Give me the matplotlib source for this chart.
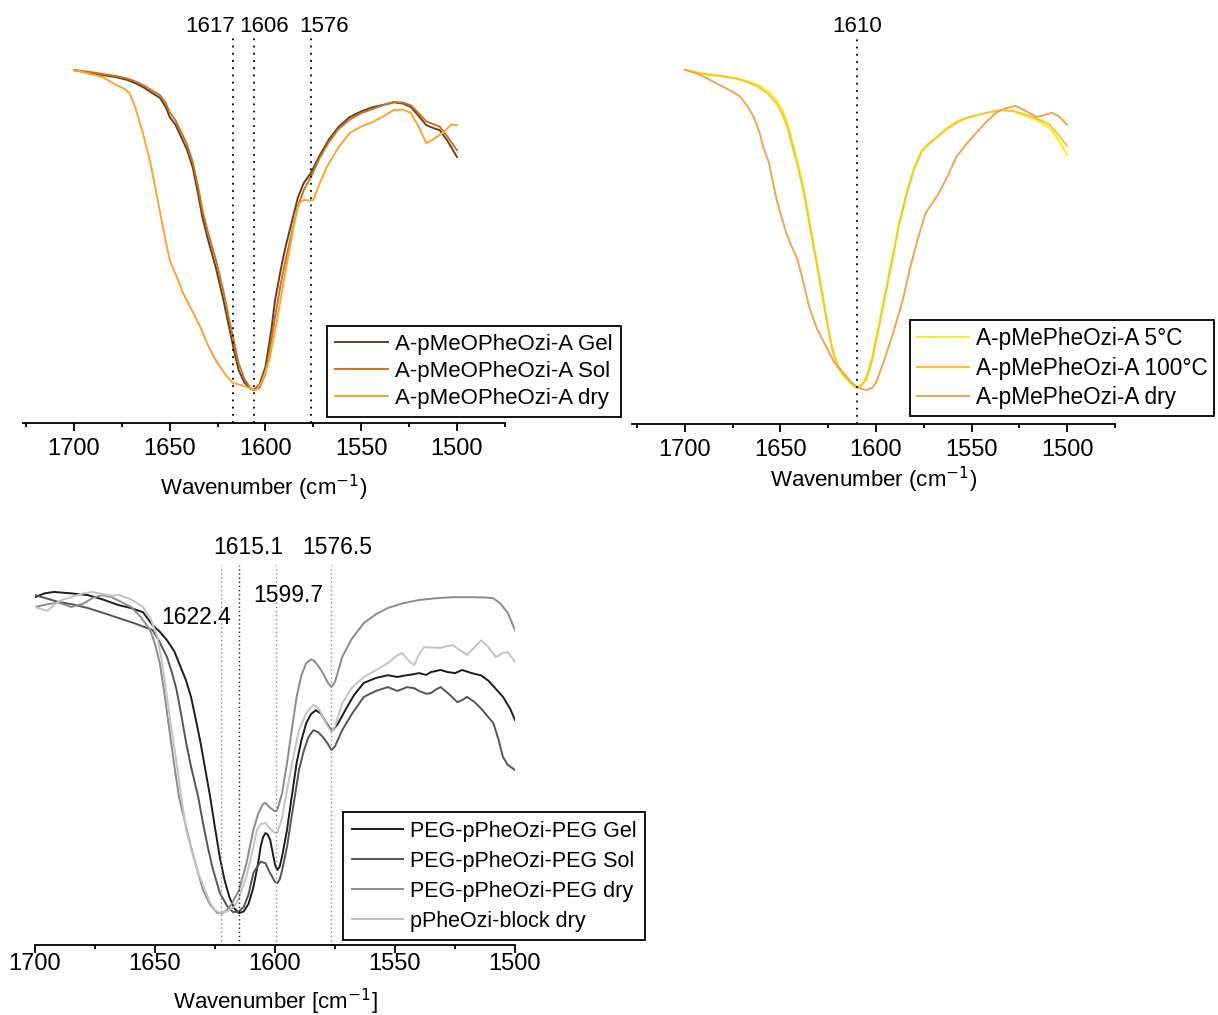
import matplotlib
matplotlib.use("Agg")
import matplotlib.pyplot as plt
import matplotlib.transforms as mtransforms
from matplotlib.ticker import MultipleLocator

plt.rcParams['font.family'] = ['Liberation Sans', 'DejaVu Sans']

# ---------------- Panel A: A-pMeOPheOzi-A ----------------
wn_meo = [1700, 1692, 1685, 1678, 1672, 1668, 1664, 1660, 1655, 1652, 1650, 1647, 1645, 1641,
          1638, 1635, 1633, 1630, 1626, 1622, 1619, 1616, 1614, 1611, 1608, 1606, 1603, 1600,
          1597, 1595, 1592, 1589.5, 1586, 1583, 1580, 1576, 1572, 1567, 1562, 1556, 1550,
          1544, 1538, 1533, 1528, 1524, 1520, 1516, 1512, 1509, 1505, 1500]
t_meo_gel = [100, 99.3, 98.6, 98.0, 97.2, 96.3, 95.2, 93.8, 92.1, 89.5, 86.7, 84.5, 82.2, 77.5,
             72.5, 64.5, 58.4, 52.0, 44.2, 35.0, 27.2, 19.5, 15.0, 11.5, 9.8, 9.3, 11.0, 15.9,
             26.0, 34.8, 43.5, 49.9, 57.5, 64.0, 68.0, 71.1, 75.5, 80.2, 83.8, 86.7, 88.3,
             89.5, 90.2, 90.9, 90.5, 89.5, 87.0, 84.4, 83.5, 83.0, 80.0, 75.4]
t_meo_sol = [100, 99.5, 98.9, 98.3, 97.6, 96.8, 95.8, 94.5, 92.9, 90.6, 88.0, 85.8, 83.5, 79.0,
             74.0, 66.5, 60.5, 54.0, 46.5, 37.5, 29.5, 22.0, 17.0, 12.5, 10.0, 9.3, 10.0, 14.0,
             23.0, 30.0, 39.5, 46.0, 54.5, 61.5, 66.0, 70.0, 74.8, 79.5, 83.2, 86.0, 87.8,
             89.0, 90.2, 90.9, 90.8, 90.0, 87.8, 85.5, 84.6, 84.0, 81.2, 77.3]
wn_meo_dry = [1700, 1692, 1685, 1678, 1674, 1671, 1668, 1664, 1660, 1657, 1653, 1650, 1646,
              1643, 1638, 1634, 1630, 1626, 1621, 1617, 1613, 1610, 1607, 1605, 1602, 1598,
              1594, 1591, 1587, 1584, 1582, 1580, 1577, 1575, 1572, 1568, 1562, 1556, 1550,
              1544, 1538, 1533, 1528, 1524, 1520, 1516, 1512, 1507, 1503, 1500]
t_meo_dry = [100, 99.0, 98.0, 95.8, 94.8, 93.5, 89.5, 82.2, 73.5, 65.2, 54.0, 46.2, 41.0,
             36.8, 31.5, 27.2, 22.0, 17.8, 13.8, 11.3, 10.8, 10.2, 9.6, 9.3, 11.5, 17.8,
             29.0, 38.5, 50.5, 59.5, 62.5, 63.2, 63.0, 63.2, 67.5, 72.5, 78.0, 82.2, 84.0,
             85.3, 87.0, 88.7, 88.8, 87.8, 84.0, 79.3, 80.5, 82.4, 84.6, 84.4]
labels_meo = ["A-pMeOPheOzi-A Gel", "A-pMeOPheOzi-A Sol", "A-pMeOPheOzi-A dry"]
colors_meo = ["#5e4321", "#d0701f", "#f9a532"]
peaks_meo = [1617, 1606, 1576]
peak_text_x_meo = [1629, 1600.5, 1569.4]

# ---------------- Panel B: A-pMePheOzi-A ----------------
wn_me = [1700, 1690, 1680, 1673, 1667, 1662, 1659, 1656, 1652, 1649, 1646, 1644, 1641, 1638,
         1636, 1633, 1631, 1628, 1626, 1623, 1620, 1617, 1615, 1612, 1610, 1608, 1605, 1602,
         1598, 1595, 1591, 1588, 1584, 1580, 1576, 1572, 1568, 1563, 1558, 1553, 1547, 1541,
         1534, 1528, 1523, 1516, 1509, 1505, 1500]
t_me_5 = [100, 99.0, 98.3, 97.7, 96.8, 95.8, 94.8, 93.8, 91.5, 88.7, 84.5, 80.2, 74.0, 66.9,
          61.0, 52.0, 46.0, 37.0, 30.5, 20.9, 16.0, 13.5, 12.4, 10.8, 10.2, 11.0, 13.3, 19.0,
          29.4, 37.5, 48.3, 56.5, 65.3, 72.5, 77.4, 79.5, 81.1, 83.5, 85.3, 86.5, 87.3, 88.0,
          88.7, 88.3, 87.3, 85.8, 83.6, 80.5, 76.0]
t_me_100 = [100, 98.8, 98.1, 97.5, 96.5, 95.3, 94.2, 93.0, 90.5, 87.5, 83.2, 79.0, 72.8, 66.0,
            60.0, 51.0, 45.0, 36.0, 29.8, 21.5, 16.5, 14.0, 13.0, 11.0, 10.2, 10.6, 12.5, 18.0,
            28.5, 36.8, 47.5, 56.0, 64.8, 72.0, 77.0, 79.2, 81.0, 83.2, 85.0, 86.3, 87.2, 88.0,
            88.7, 88.4, 87.6, 86.3, 84.5, 82.0, 78.5]
wn_me_dry = [1700, 1693, 1687, 1680, 1675, 1671, 1667, 1664, 1661, 1659, 1656, 1654, 1652,
             1650, 1647, 1644, 1641, 1638, 1635, 1631, 1626, 1622, 1617, 1613, 1610, 1607,
             1605, 1602, 1600, 1596, 1591, 1586, 1582, 1578, 1574, 1570, 1567, 1562, 1558,
             1552, 1547, 1542, 1537, 1532, 1527, 1522, 1516, 1512, 1508, 1504, 1500]
t_me_dry = [100, 98.8, 97.2, 95.2, 93.8, 92.4, 89.5, 86.7, 82.5, 78.2, 73.7, 68.5, 63.3,
            59.5, 54.0, 50.0, 46.3, 40.0, 33.1, 27.0, 21.8, 17.5, 14.4, 11.8, 10.5, 9.8,
            9.6, 10.2, 11.6, 17.5, 25.7, 35.0, 44.4, 52.5, 59.6, 62.8, 65.3, 70.5, 75.4,
            79.5, 82.5, 85.5, 87.9, 89.2, 89.8, 88.5, 86.7, 87.2, 87.9, 86.8, 84.5]
labels_me = ["A-pMePheOzi-A 5°C", "A-pMePheOzi-A 100°C", "A-pMePheOzi-A dry"]
colors_me = ["#f2ee22", "#f7c72c", "#f2a452"]
peaks_me = [1610]

# ---------------- Panel C: PEG-pPheOzi-PEG ----------------
wn_peg_gel = [1700, 1696, 1692, 1685, 1678, 1672, 1665, 1660, 1655, 1651, 1648, 1645, 1642,
              1640, 1637, 1635, 1633, 1631, 1629, 1627, 1625, 1623, 1621, 1619, 1617, 1615,
              1613, 1611, 1609, 1607, 1606, 1605, 1604, 1603, 1602, 1601, 1600, 1599, 1598,
              1597, 1595, 1593, 1591, 1589, 1587, 1585, 1583, 1581, 1579, 1577, 1576, 1574,
              1572, 1570, 1567, 1563, 1558, 1553, 1549, 1546, 1543, 1540, 1537, 1535, 1531,
              1528, 1525, 1522, 1518, 1514, 1511, 1508, 1505, 1502, 1500]
t_peg_gel = [99.4, 100.5, 100.9, 100.5, 100, 98.8, 97.1, 96.3, 95.1, 91.4, 89.5, 87.1, 84.0,
             80.6, 75.5, 70.9, 64.5, 57.7, 50.0, 42.3, 33.5, 25.1, 18.5, 13.7, 10.5, 9.1,
             9.6, 11.8, 16.5, 23.5, 28.0, 30.8, 32.0, 31.5, 30.0, 26.5, 23.0, 21.4, 22.5,
             25.5, 32.9, 42.5, 52.0, 58.5, 63.4, 66.0, 67.1, 66.2, 64.0, 61.7, 61.4, 63.0,
             65.5, 68.0, 71.5, 74.9, 76.3, 77.1, 76.6, 77.0, 77.3, 77.7, 77.2, 78.0, 78.6,
             78.0, 77.7, 78.6, 77.7, 77.0, 75.5, 73.2, 70.9, 67.5, 64.3]
wn_peg_sol = [1700, 1695, 1690, 1684, 1678, 1672, 1665, 1658, 1651, 1648, 1645, 1643, 1641,
              1639, 1637, 1635, 1632, 1630, 1628, 1626, 1623, 1620, 1617.5, 1615, 1613, 1611,
              1609, 1607, 1606, 1604, 1602, 1600, 1599, 1598, 1597, 1595, 1593, 1590, 1588,
              1586, 1584, 1582, 1580, 1578, 1576.5, 1575, 1572, 1568, 1563, 1558, 1553, 1549,
              1545, 1542, 1540, 1537, 1535, 1533, 1531, 1528, 1524, 1522, 1520, 1517, 1514,
              1511, 1509, 1507, 1505, 1503, 1500]
t_peg_sol = [100, 99.0, 98.0, 97.3, 96.3, 95.0, 93.4, 91.8, 90.0, 86.5, 82.3, 78.0, 72.9,
             65.5, 57.7, 51.0, 42.3, 34.8, 28.0, 22.0, 14.9, 11.2, 9.4, 9.6, 10.9, 14.5,
             20.6, 22.8, 23.8, 23.4, 20.5, 18.0, 17.7, 18.8, 21.5, 28.0, 37.0, 50.0, 55.5,
             59.5, 61.4, 60.8, 59.4, 57.5, 55.7, 56.8, 61.4, 66.0, 70.9, 72.6, 73.7, 72.6,
             73.7, 73.4, 72.6, 71.8, 72.0, 73.0, 73.7, 72.0, 69.4, 70.0, 70.9, 69.5, 67.5,
             65.0, 63.4, 59.0, 53.7, 51.5, 50.0]
wn_peg_dry = [1700, 1694, 1690, 1685, 1680, 1676, 1672, 1668, 1664, 1660, 1656, 1652, 1650,
              1648, 1646, 1644, 1642, 1640, 1638, 1635, 1632, 1630, 1627, 1624, 1622, 1620,
              1618, 1615, 1612, 1609, 1607, 1605, 1604, 1602, 1600, 1599, 1597, 1595, 1593,
              1591, 1589, 1587, 1585, 1584, 1582, 1580, 1578, 1576.5, 1575, 1572, 1568, 1563,
              1558, 1553, 1547, 1540, 1533, 1526, 1518, 1512, 1509, 1506, 1503, 1500]
t_peg_dry = [96.6, 97.5, 97.8, 96.6, 97.5, 99.2, 100, 99.4, 98.0, 96.6, 93.8, 90.0, 86.0,
             80.6, 71.5, 61.4, 51.5, 42.3, 36.5, 28.0, 20.5, 15.7, 11.5, 9.1, 9.0, 10.0,
             11.8, 15.7, 23.0, 32.9, 37.5, 40.3, 40.6, 39.2, 38.2, 38.6, 43.5, 52.0, 61.5,
             70.9, 77.0, 80.6, 81.6, 81.4, 79.8, 77.7, 75.0, 73.7, 75.2, 82.3, 87.5, 92.0,
             94.5, 96.3, 97.6, 98.6, 99.1, 99.4, 99.4, 99.3, 99.1, 97.5, 94.9, 90.0]
wn_block = [1700, 1695, 1690, 1685, 1680, 1676, 1672, 1668, 1665, 1660, 1655, 1652, 1649,
            1647, 1645, 1643, 1641, 1639, 1637, 1634, 1632, 1629, 1627, 1625, 1623, 1620,
            1617, 1615, 1612, 1610, 1607.5, 1606, 1604, 1602, 1600, 1599, 1597, 1595, 1592,
            1590, 1587, 1584, 1582, 1580, 1578, 1576.5, 1575, 1572, 1568, 1563, 1558, 1553,
            1549, 1547, 1544, 1542, 1540, 1538, 1534, 1531, 1528, 1526, 1523, 1520, 1517,
            1514, 1511, 1508, 1505, 1503, 1500]
t_block = [96.6, 95.5, 98.3, 99.4, 100.5, 100.9, 100.3, 99.8, 100, 98.8, 96.6, 93.5, 88.0,
           80.5, 70.9, 61.0, 52.0, 42.0, 32.9, 25.0, 20.6, 15.5, 12.0, 10.0, 9.1, 9.6,
           10.9, 13.5, 19.4, 25.0, 32.9, 34.5, 34.9, 33.2, 32.0, 32.0, 36.5, 44.3, 55.0,
           61.4, 66.3, 68.6, 67.8, 65.1, 62.5, 60.9, 62.5, 69.1, 73.5, 76.6, 78.5, 80.6,
           82.8, 83.4, 81.0, 80.0, 83.0, 85.1, 85.0, 84.9, 85.5, 85.7, 84.3, 82.9, 85.0,
           87.1, 85.0, 82.3, 83.5, 83.7, 80.9]
labels_peg = ["PEG-pPheOzi-PEG Gel", "PEG-pPheOzi-PEG Sol", "PEG-pPheOzi-PEG dry",
              "pPheOzi-block dry"]
colors_peg = ["#1c1c1c", "#555555", "#8c8c8c", "#c4c4c4"]
peaks_peg = [1622.4, 1615.1, 1599.7, 1576.5]
peak_colors_peg = ["#8a8a8a", "#222222", "#8a8a8a", "#8a8a8a"]
peak_text_x_peg = [1632.9, 1611.25, 1594.6, 1574.2]
peak_text_y_peg = [0.863, 1.045, 0.921, 1.045]

TICK_FS = 17
ANN_FS = 16
ANN_FS_C = 16.5
LAB_FS = 16
LW = 1.4

fig = plt.figure(figsize=(12.18, 10.15), dpi=100)


def style_axis(ax, xlim, ylim, pad):
    ax.set_xlim(*xlim)
    ax.set_ylim(*ylim)
    for s in ["left", "right", "top"]:
        ax.spines[s].set_visible(False)
    ax.spines["bottom"].set_linewidth(1.3)
    ax.set_yticks([])
    ax.xaxis.set_major_locator(MultipleLocator(50))
    ax.xaxis.set_minor_locator(MultipleLocator(25))
    ax.tick_params(axis="x", which="major", direction="out", length=5.5, width=1.3,
                   labelsize=TICK_FS, pad=pad)
    ax.tick_params(axis="x", which="minor", direction="out", length=3, width=1.3)
    ax.patch.set_alpha(0)


def legend(ax, anchor, fs, spacing, bpad, hlen=2.4):
    leg = ax.legend(loc="upper left", bbox_to_anchor=anchor, bbox_transform=fig.transFigure,
                    fontsize=fs, frameon=True, fancybox=False, framealpha=1,
                    edgecolor="black", borderaxespad=0, borderpad=bpad,
                    handlelength=hlen, handletextpad=0.3, labelspacing=spacing)
    leg.get_frame().set_linewidth(1.3)
    return leg


# ---- Panel A ----
axA = fig.add_axes([23 / 1218, 1 - 423 / 1015, 482 / 1218, 385 / 1015])
axA.plot(wn_meo, t_meo_gel, color=colors_meo[0], lw=LW, label=labels_meo[0])
axA.plot(wn_meo, t_meo_sol, color=colors_meo[1], lw=LW, label=labels_meo[1])
axA.plot(wn_meo_dry, t_meo_dry, color=colors_meo[2], lw=LW, label=labels_meo[2])
style_axis(axA, (1726.6, 1474.9), (0, 109.1), 5)
transA = mtransforms.blended_transform_factory(axA.transData, axA.transAxes)
for p, tx in zip(peaks_meo, peak_text_x_meo):
    axA.axvline(p, color="black", ls=(0, (1, 3)), lw=1.3)
    axA.text(tx, 1.0286, str(p), transform=transA, ha="center", va="center", fontsize=ANN_FS)
axA.set_xlabel("Wavenumber (cm$^{-1}$)", fontsize=LAB_FS)
axA.xaxis.set_label_coords(0.5, -0.169)
axA.xaxis.label.set_va("center")
legend(axA, (327 / 1218, 1 - 326 / 1015), 16, 0.27, 0.36)

# ---- Panel B ----
axB = fig.add_axes([632 / 1218, 1 - 424 / 1015, 483 / 1218, 386 / 1015])
axB.plot(wn_me, t_me_5, color=colors_me[0], lw=LW, label=labels_me[0])
axB.plot(wn_me, t_me_100, color=colors_me[1], lw=LW, label=labels_me[1])
axB.plot(wn_me_dry, t_me_dry, color=colors_me[2], lw=LW, label=labels_me[2])
style_axis(axB, (1727.7, 1474.9), (0, 109.0), 5)
transB = mtransforms.blended_transform_factory(axB.transData, axB.transAxes)
for p in peaks_me:
    axB.axvline(p, color="black", ls=(0, (1, 3)), lw=1.3)
    axB.text(p, 1.0285, str(p), transform=transB, ha="center", va="center", fontsize=ANN_FS)
axB.set_xlabel("Wavenumber (cm$^{-1}$)", fontsize=LAB_FS)
axB.xaxis.set_label_coords(0.5, -0.145)
axB.xaxis.label.set_va("center")
legend(axB, (910 / 1218, 1 - 320 / 1015), 16.3, 0.3, 0.3, hlen=2.3)

# ---- Panel C ----
axC = fig.add_axes([35 / 1218, 1 - 945 / 1015, 480 / 1218, 380 / 1015])
axC.plot(wn_peg_gel, t_peg_gel, color=colors_peg[0], lw=LW, label=labels_peg[0])
axC.plot(wn_peg_sol, t_peg_sol, color=colors_peg[1], lw=LW, label=labels_peg[1])
axC.plot(wn_peg_dry, t_peg_dry, color=colors_peg[2], lw=LW, label=labels_peg[2])
axC.plot(wn_block, t_block, color=colors_peg[3], lw=LW, label=labels_peg[3])
style_axis(axC, (1700, 1500), (0, 108.6), 0)
transC = mtransforms.blended_transform_factory(axC.transData, axC.transAxes)
for p, c, tx, ty in zip(peaks_peg, peak_colors_peg, peak_text_x_peg, peak_text_y_peg):
    axC.axvline(p, color=c, ls=(0, (1, 2)), lw=1.0)
    axC.text(tx, ty, str(p), transform=transC, ha="center", va="center", fontsize=ANN_FS_C)
axC.set_xlabel("Wavenumber [cm$^{-1}$]", fontsize=LAB_FS)
axC.xaxis.set_label_coords(0.5, -0.15)
axC.xaxis.label.set_va("center")
legend(axC, (343 / 1218, 1 - 812 / 1015), 15.5, 0.42, 0.4)

fig.savefig("out.png", dpi=100)
